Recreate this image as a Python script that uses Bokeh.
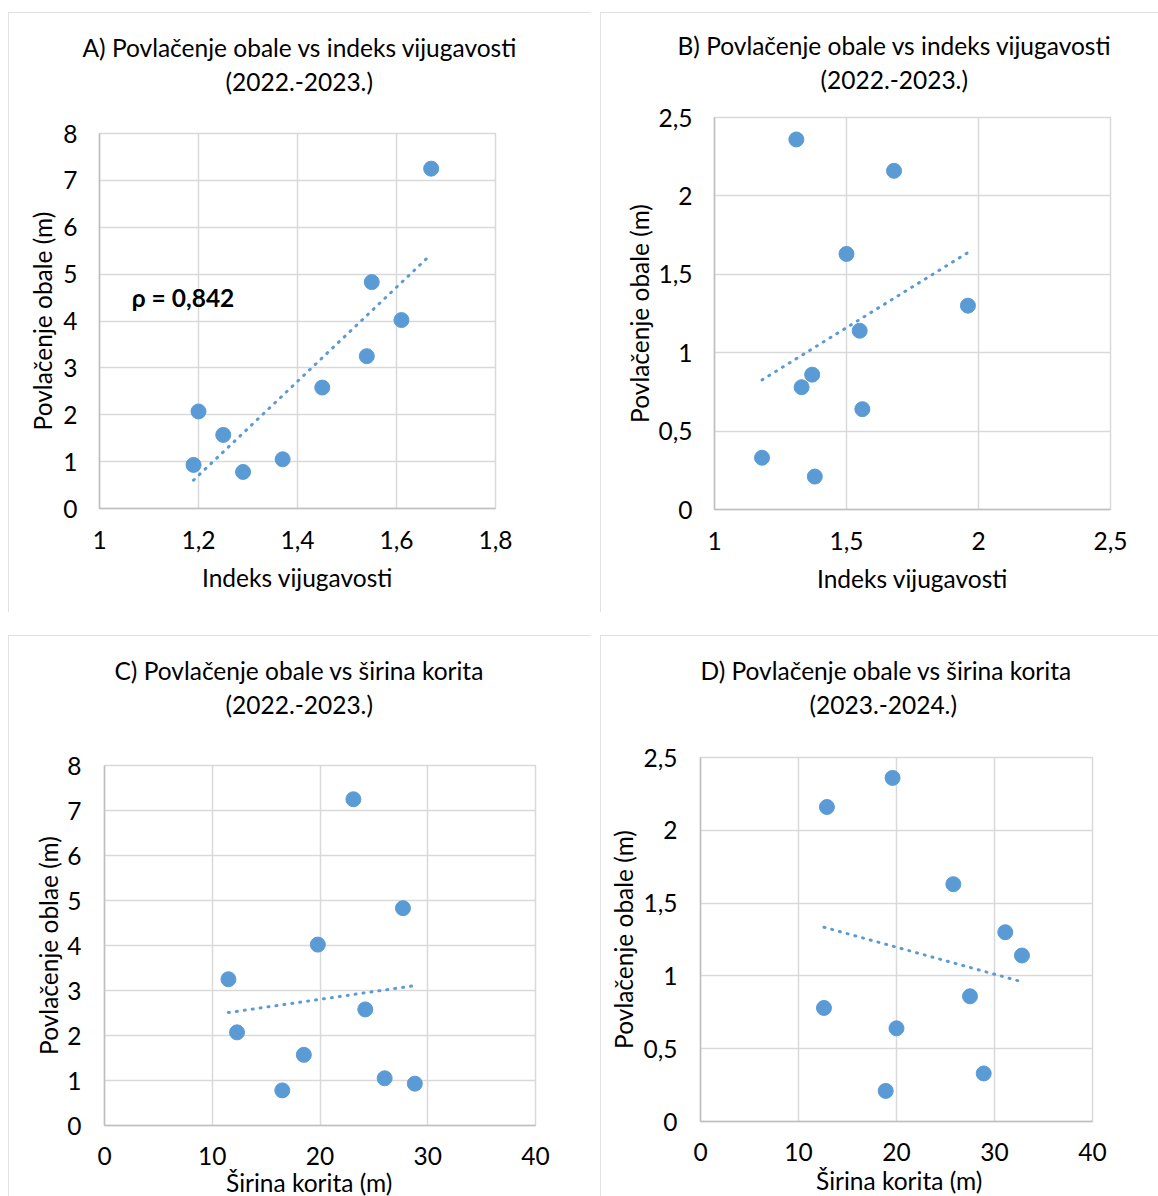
import numpy as np
from bokeh.plotting import figure
from bokeh.models import Range1d, FixedTicker, CustomJSTickFormatter, Label, Spacer, Title
from bokeh.layouts import row, column
from bokeh.embed import file_html
from bokeh.resources import INLINE

# ---------------- data ----------------
# A) shoreline retreat 2022-2023 vs sinuosity index
A_X = [1.19, 1.20, 1.25, 1.29, 1.37, 1.45, 1.54, 1.55, 1.61, 1.67]
A_Y = [0.93, 2.07, 1.57, 0.78, 1.05, 2.58, 3.25, 4.83, 4.02, 7.25]
# B) shoreline retreat vs sinuosity index
B_X = [1.18, 1.31, 1.33, 1.37, 1.38, 1.50, 1.55, 1.56, 1.68, 1.96]
B_Y = [0.33, 2.36, 0.78, 0.86, 0.21, 1.63, 1.14, 0.64, 2.16, 1.30]
# C) shoreline retreat 2022-2023 vs channel width
C_X = [28.8, 12.3, 18.5, 16.5, 26.0, 24.2, 11.5, 27.7, 19.8, 23.1]
C_Y = [0.93, 2.07, 1.57, 0.78, 1.05, 2.58, 3.25, 4.83, 4.02, 7.25]
# D) shoreline retreat 2023-2024 vs channel width
D_X = [28.9, 19.6, 12.6, 27.5, 18.9, 25.8, 32.8, 20.0, 12.9, 31.1]
D_Y = [0.33, 2.36, 0.78, 0.86, 0.21, 1.63, 1.14, 0.64, 2.16, 1.30]

A_XTICKS = [1, 1.2, 1.4, 1.6, 1.8]
A_YTICKS = [0, 1, 2, 3, 4, 5, 6, 7, 8]
B_XTICKS = [1, 1.5, 2, 2.5]
B_YTICKS = [0, 0.5, 1, 1.5, 2, 2.5]
C_XTICKS = [0, 10, 20, 30, 40]
C_YTICKS = [0, 1, 2, 3, 4, 5, 6, 7, 8]
D_XTICKS = [0, 10, 20, 30, 40]
D_YTICKS = [0, 0.5, 1, 1.5, 2, 2.5]

RHO_TEXT = "ρ = 0,842"

# ---------------- style ----------------
FONT = "Lato"
FS = "24.5px"
BLUE = "#5b9bd5"
GRID = "#d9d9d9"
AXIS = "#bfbfbf"
TXT = "#000000"

FMT_CODE = "return (Math.round(tick*10)/10).toString().replace('.', ',');"


def panel(xs, ys, xticks, yticks, t1, t2, xlabel, ylabel, width, height,
          ml, mr, mt, mb, t_gap, t1_off, t2_off, ytick_so, ylab_so, xtick_so, xlab_so,
          xlab_title=None):
    x0, x1 = xticks[0], xticks[-1]
    y0, y1 = yticks[0], yticks[-1]

    p = figure(width=width, height=height, output_backend="svg", toolbar_location=None,
               title=None,
               x_range=Range1d(x0, x1), y_range=Range1d(y0, y1),
               min_border_left=ml, min_border_right=mr, min_border_top=mt, min_border_bottom=mb,
               background_fill_color="white", border_fill_color="white",
               outline_line_color=GRID, outline_line_width=1.5)
    p.styles = {"outline": "1px solid #d9d9d9", "outline-offset": "-1px"}

    # title: blank spacer (closest to frame), then line 2, then line 1
    p.add_layout(Title(text="\u00a0", text_font=FONT, text_font_size="8px",
                       text_color="white", standoff=t_gap), "above")
    p.add_layout(Title(text=t2, align="left", offset=t2_off, standoff=2.5,
                       text_font=FONT, text_font_size=FS, text_font_style="normal",
                       text_color=TXT), "above")
    p.add_layout(Title(text=t1, align="left", offset=t1_off, standoff=2.5,
                       text_font=FONT, text_font_size=FS, text_font_style="normal",
                       text_color=TXT), "above")

    xt = FixedTicker(ticks=xticks)
    yt = FixedTicker(ticks=yticks)
    p.xaxis.ticker = xt
    p.yaxis.ticker = yt
    p.xgrid.ticker = xt
    p.ygrid.ticker = yt
    p.grid.grid_line_color = GRID
    p.grid.grid_line_width = 1.5

    for ax in (p.xaxis[0], p.yaxis[0]):
        ax.formatter = CustomJSTickFormatter(code=FMT_CODE)
        ax.major_tick_in = 0
        ax.major_tick_out = 0
        ax.minor_tick_in = 0
        ax.minor_tick_out = 0
        ax.major_tick_line_color = None
        ax.minor_tick_line_color = None
        ax.axis_line_color = AXIS
        ax.axis_line_width = 1.5
        ax.major_label_text_font = FONT
        ax.major_label_text_font_size = FS
        ax.major_label_text_color = TXT
        ax.axis_label_text_font = FONT
        ax.axis_label_text_font_size = FS
        ax.axis_label_text_font_style = "normal"
        ax.axis_label_text_color = TXT
    p.yaxis.axis_label = ylabel
    p.yaxis.major_label_standoff = ytick_so
    p.yaxis.axis_label_standoff = ylab_so
    p.xaxis.major_label_standoff = xtick_so
    if xlab_title is None:
        p.xaxis.axis_label = xlabel
        p.xaxis.axis_label_standoff = xlab_so
    else:
        off, so = xlab_title
        p.add_layout(Title(text=xlabel, align="left", offset=off, standoff=so,
                           text_font=FONT, text_font_size=FS, text_font_style="normal",
                           text_color=TXT), "below")

    p.scatter(xs, ys, size=15, fill_color=BLUE, line_color=BLUE)
    m, b = np.polyfit(xs, ys, 1)
    tx = [min(xs), max(xs)]
    ty = [m * t + b for t in tx]
    p.line(tx, ty, line_color=BLUE, line_width=3, line_dash="1 7", line_cap="round")
    return p


pA = panel(A_X, A_Y, A_XTICKS, A_YTICKS,
           "A) Povlačenje obale vs indeks vijugavosti", "(2022.-2023.)",
           "Indeks vijugavosti", "Povlačenje obale (m)",
           583, 600, 91, 96, 121, 104, 23.5, -17, 126, 22, 3, 22, 11)
pA.add_layout(Label(x=1.065, y=4.5, text=RHO_TEXT, text_font=FONT, text_font_size=FS,
                    text_font_style="bold", text_baseline="middle", text_align="left",
                    text_color=TXT))

pB = panel(B_X, B_Y, B_XTICKS, B_YTICKS,
           "B) Povlačenje obale vs indeks vijugavosti", "(2022.-2023.)",
           "Indeks vijugavosti", "Povlačenje obale (m)",
           558, 600, 114, 48, 105, 103, 9.5, -37, 106, 22, 2, 22, 11)

pC = panel(C_X, C_Y, C_XTICKS, C_YTICKS,
           "C) Povlačenje obale vs širina korita", "(2022.-2023.)",
           "Širina korita (m)", "Povlačenje oblae (m)",
           583, 561, 96, 56, 130, 71, 32.5, 10, 121, 23, 1, 21, 0,
           xlab_title=(121.5, -4))

pD = panel(D_X, D_Y, D_XTICKS, D_YTICKS,
           "D) Povlačenje obale vs širina korita", "(2023.-2024.)",
           "Širina korita (m)", "Povlačenje obale (m)",
           558, 561, 100, 66, 122, 75, 24.5, 0, 109, 23, 3, 21, 0,
           xlab_title=(115.5, 0.5))

layout = column(
    Spacer(width=1158, height=12),
    row(Spacer(width=8, height=600), column(pA), Spacer(width=9, height=600), column(pB)),
    Spacer(width=1158, height=23),
    row(Spacer(width=8, height=561), column(pC), Spacer(width=9, height=561), column(pD)),
)

open("out.html", "w").write(file_html(layout, INLINE))
